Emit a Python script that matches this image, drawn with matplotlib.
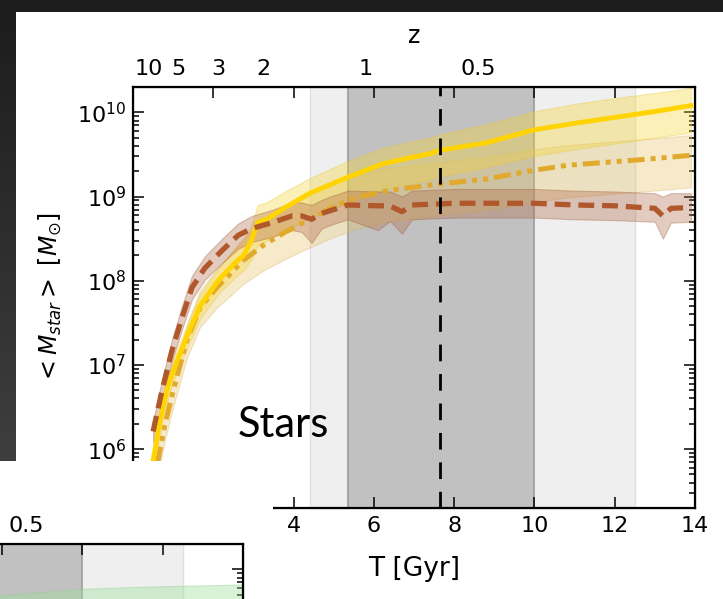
import numpy as np
import matplotlib
matplotlib.use('Agg')
import matplotlib.pyplot as plt
from matplotlib.ticker import LogLocator, NullFormatter, NullLocator

# ---------------- data ----------------
x_ticks = [0, 2, 4, 6, 8, 10, 12, 14]
z_labels = ['10', '5', '3', '2', '1', '0.5']
z_T = [0.40, 1.12, 2.12, 3.24, 5.80, 8.60]

band_light = (4.4, 12.5)
band_dark = (5.35, 10.0)
t_mark = 7.65

# solid gold line (log10 M)
T_solid = [0.35, 0.5, 0.7, 0.87, 1.1, 1.3, 1.67, 2.12, 2.54, 2.75, 2.95, 3.11, 3.36,
           3.79, 4.41, 5.35, 6.23, 6.8, 7.4, 7.65, 8.82, 9.96, 11.0, 12.0, 13.0, 13.9]
logM_solid = [5.2, 5.86, 6.4, 6.75, 7.05, 7.29, 7.70, 8.0, 8.21, 8.30, 8.48, 8.69, 8.74,
              8.87, 9.04, 9.23, 9.39, 9.45, 9.51, 9.55, 9.64, 9.79, 9.87, 9.94, 10.01, 10.08]
lo_solid = [5.1, 5.75, 6.28, 6.62, 6.92, 7.15, 7.55, 7.84, 8.04, 8.12, 8.25, 8.42, 8.48,
            8.60, 8.74, 8.93, 9.08, 9.14, 9.20, 9.24, 9.35, 9.48, 9.56, 9.63, 9.70, 9.76]
hi_solid = [5.3, 5.97, 6.52, 6.88, 7.18, 7.42, 7.84, 8.14, 8.38, 8.48, 8.66, 8.90, 8.94,
            9.06, 9.22, 9.42, 9.58, 9.64, 9.70, 9.74, 9.86, 10.01, 10.10, 10.17, 10.23, 10.29]

# dash-dot-dot goldenrod line
T_dd = [0.45, 0.62, 0.8, 1.0, 1.34, 1.67, 2.09, 2.42, 2.74, 3.24, 3.8, 4.33, 5.0, 5.58,
        6.33, 7.0, 7.65, 8.82, 9.96, 10.8, 11.6, 12.45, 13.2, 13.9]
logM_dd = [5.3, 5.86, 6.3, 6.69, 7.29, 7.68, 7.92, 8.08, 8.24, 8.42, 8.58, 8.71, 8.88, 8.99,
           9.07, 9.11, 9.15, 9.21, 9.31, 9.37, 9.40, 9.43, 9.46, 9.49]
lo_dd = [5.15, 5.7, 6.12, 6.5, 7.08, 7.45, 7.68, 7.82, 7.96, 8.12, 8.26, 8.38, 8.52, 8.62,
         8.70, 8.74, 8.78, 8.84, 8.93, 8.99, 9.02, 9.05, 9.08, 9.11]
hi_dd = [5.45, 6.0, 6.46, 6.86, 7.48, 7.88, 8.14, 8.32, 8.5, 8.7, 8.86, 9.0, 9.16, 9.26,
         9.33, 9.37, 9.41, 9.47, 9.56, 9.61, 9.64, 9.67, 9.70, 9.73]

# dashed brown line
T_br = [0.5, 0.72, 0.97, 1.22, 1.47, 1.79, 2.22, 2.62, 2.96, 3.46, 3.96, 4.2, 4.45,
        4.7, 4.9, 5.35, 6.1, 6.4, 6.7, 6.95, 8.0, 10.0, 11.0, 12.0, 13.0, 13.2, 13.4, 13.9]
logM_br = [6.21, 6.69, 7.17, 7.56, 7.92, 8.15, 8.36, 8.54, 8.62, 8.69, 8.77, 8.77, 8.73,
           8.80, 8.83, 8.90, 8.89, 8.89, 8.82, 8.90, 8.92, 8.92, 8.90, 8.89, 8.86, 8.77, 8.86, 8.87]
lo_br = [6.08, 6.56, 7.04, 7.42, 7.78, 8.01, 8.21, 8.38, 8.46, 8.52, 8.60, 8.58, 8.45,
         8.62, 8.66, 8.73, 8.60, 8.71, 8.56, 8.73, 8.75, 8.75, 8.73, 8.72, 8.70, 8.50, 8.69, 8.70]
hi_br = [6.33, 6.82, 7.30, 7.70, 8.06, 8.29, 8.50, 8.68, 8.77, 8.84, 8.93, 8.93, 8.90,
         8.96, 9.00, 9.07, 9.06, 9.06, 9.00, 9.07, 9.09, 9.09, 9.07, 9.06, 9.04, 9.00, 9.04, 9.04]

# second (partly hidden) chart: green band
T_green = [6.5, 8.0, 10.0, 12.0, 14.0]
lo_green = [9.00, 9.10, 9.20, 9.25, 9.30]
hi_green = [9.62, 9.69, 9.77, 9.80, 9.82]

# ---------------- figure ----------------
W, H = 723, 599
fig = plt.figure(figsize=(W / 100, H / 100), dpi=100, facecolor='white')


def fx(px):
    return px / W


def fy(py):
    return 1 - py / H


LBL = 16


def frame(ax, zo=0, full=True):
    ax.set_yscale('log')
    ax.set_xlim(0, 14)
    ax.set_ylim(2e5, 2e10)
    ax.axvspan(*band_light, color='#efefef', zorder=0, lw=0)
    ax.axvspan(*band_dark, color='#c1c1c1', zorder=0.5, lw=0)
    for xv in band_dark:
        ax.axvline(xv, color='#9c9c9c', lw=1.2, zorder=0.6)
    for xv in band_light:
        ax.axvline(xv, color='#e0e0e0', lw=1.0, zorder=0.6)
    ax.set_xticks(x_ticks)
    ax.xaxis.set_minor_locator(NullLocator())
    ax.yaxis.set_major_locator(LogLocator(base=10, numticks=20))
    ax.yaxis.set_minor_locator(LogLocator(base=10, subs=np.arange(2, 10), numticks=20))
    ax.yaxis.set_minor_formatter(NullFormatter())
    ax.tick_params(which='both', direction='in', right=True, width=1.1)
    ax.tick_params(which='major', length=8, labelsize=LBL)
    ax.tick_params(axis='x', pad=6)
    ax.tick_params(axis='y', pad=5)
    ax.tick_params(which='minor', length=4)
    for s in ax.spines.values():
        s.set_linewidth(1.6)
    axz = ax.twiny()
    axz.set_zorder(zo)
    axz.set_xlim(ax.get_xlim())
    axz.set_xticks(z_T)
    axz.set_xticklabels(z_labels)
    axz.xaxis.set_minor_locator(NullLocator())
    axz.tick_params(length=0, labelsize=LBL, pad=6)
    ax.xaxis.set_ticks_position('both')
    ax.tick_params(axis='x', which='both', direction='in', top=True, bottom=True)
    if full:
        axz.set_xlabel('z', fontsize=17, labelpad=11)
    else:
        ax.tick_params(labelleft=False, labelbottom=False)
        # only the labels that fall inside the visible piece of this chart
        for lab, t in zip(axz.get_xticklabels(), z_T):
            lab.set_visible(t > 8.0)
    return axz


# main chart
ax = fig.add_axes([fx(133), fy(508), fx(695) - fx(133), fy(87) - fy(508)])
frame(ax)

P = lambda v: np.power(10.0, np.asarray(v))

ax.fill_between(T_dd, P(lo_dd), P(hi_dd), facecolor='#e6c46a', edgecolor='#d9b45a',
                alpha=0.35, lw=0.8, zorder=2)
ax.fill_between(T_solid, P(lo_solid), P(hi_solid), facecolor='#f6d531', edgecolor='#e8c830',
                alpha=0.35, lw=0.8, zorder=2.1)
ax.fill_between(T_br, P(lo_br), P(hi_br), facecolor='#b06a48', edgecolor='#9a5a3a',
                alpha=0.35, lw=0.8, zorder=2.2)
ax.plot(T_dd, P(logM_dd), color='#e2aa2c', lw=3.6,
        ls=(0, (3.4, 1.2, 1, 1.2, 1, 1.2)), zorder=3)
ax.plot(T_solid, P(logM_solid), color='#ffd400', lw=3.5, zorder=3.1)
ax.plot(T_br, P(logM_br), color='#b0582c', lw=3.8, ls=(0, (3.0, 1.5)), zorder=3.2)
ax.axvline(t_mark, color='black', lw=2.0, ls=(0, (6, 4.6)), zorder=4)

ax.set_xlabel('T [Gyr]', fontsize=19, labelpad=14)
ax.set_ylabel(r'$<M_{star}>\ [M_{\odot}]$', fontsize=17, labelpad=9)

# "Stars" annotation (slide text)
fig.text(fx(238), fy(437), 'Stars', fontsize=30, family='Lato', color='black',
         va='baseline', ha='left', zorder=10)

# overlay: second slide image at the bottom-left
ov = fig.add_axes([0, 0, fx(273), fy(461)])
ov.set_zorder(5)
ov.set_facecolor('white')
ov.set_xticks([])
ov.set_yticks([])
for s in ov.spines.values():
    s.set_visible(False)

h_ax = fy(87) - fy(508)
ax2 = fig.add_axes([fx(243 - 562), fy(544) - h_ax, fx(695) - fx(133), h_ax])
ax2.set_zorder(6)
frame(ax2, zo=6, full=False)
ax2.fill_between(T_green, P(lo_green), P(hi_green), facecolor='#9fe09f', edgecolor='#8fd08f',
                 alpha=0.4, lw=0.8, zorder=2)

# dark slide background strips
top = fig.add_axes([0, fy(12), 1, 1 - fy(12)])
top.set_zorder(20)
top.set_facecolor('#1d1d1d')
top.set_xticks([])
top.set_yticks([])
for s in top.spines.values():
    s.set_visible(False)

left = fig.add_axes([0, fy(461), fx(16), fy(12) - fy(461)])
left.set_zorder(20)
grad = np.linspace(0, 1, 100).reshape(-1, 1)
cm = matplotlib.colors.LinearSegmentedColormap.from_list('g', ['#1d1d1d', '#3e3e3e'])
left.imshow(grad, cmap=cm, aspect='auto', extent=[0, 1, 0, 1], origin='upper')
left.axis('off')

fig.savefig('out.png', dpi=100, facecolor='white')
